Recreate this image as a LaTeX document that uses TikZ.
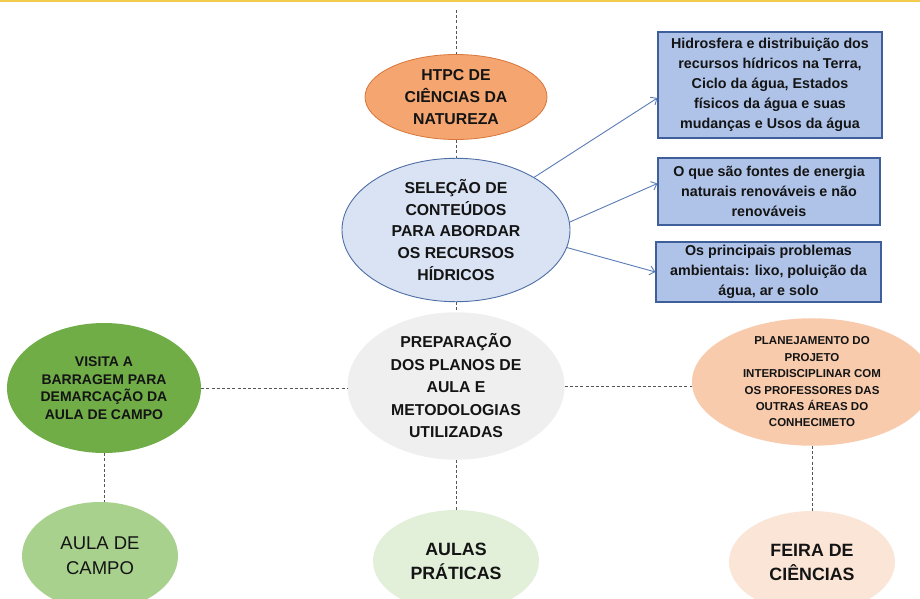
\documentclass[tikz,border=0pt]{standalone}
\usepackage{fontspec}
\setmainfont{Liberation Sans}
\usetikzlibrary{shapes.geometric,arrows.meta}
\definecolor{gold}{HTML}{F2CB4C}
\definecolor{htpcfill}{HTML}{F4A570}
\definecolor{htpcline}{HTML}{D9773A}
\definecolor{selfill}{HTML}{DAE3F3}
\definecolor{selline}{HTML}{4E6EA6}
\definecolor{boxfill}{HTML}{AFC3E8}
\definecolor{boxline}{HTML}{3F5F9A}
\definecolor{arrowc}{HTML}{5A7CB6}
\definecolor{prepfill}{HTML}{EFEFEF}
\definecolor{visfill}{HTML}{70AD47}
\definecolor{campofill}{HTML}{A9D18E}
\definecolor{pratfill}{HTML}{E2F0D9}
\definecolor{planfill}{HTML}{F8CBAD}
\definecolor{feirafill}{HTML}{FBE5D6}
\definecolor{dashc}{HTML}{555555}
\definecolor{txt}{HTML}{141414}
\tikzset{
  oval/.style={ellipse, inner sep=0pt, align=center, text=txt},
  infobox/.style={rectangle, draw=boxline, line width=1.2pt, fill=boxfill, inner sep=0pt, align=center, text=txt,
     font=\bfseries\fontsize{14.3}{20}\selectfont},
  dashlink/.style={draw=dashc, line width=0.8pt, dash pattern=on 3pt off 2.2pt},
  pointer/.style={draw=arrowc, line width=0.9pt, -{Straight Barb[length=5pt,width=9pt]}}
}
\begin{document}
\begin{tikzpicture}[x=1pt,y=-1pt]
\useasboundingbox (0,0) rectangle (920,599);
\clip (0,0) rectangle (920,599);
\fill[white] (0,0) rectangle (920,599);
\fill[gold] (0,0) rectangle (920,2.5);

% ellipses
\node[oval, fill=htpcfill, draw=htpcline, line width=0.8pt, minimum width=182pt, minimum height=85pt,
  font=\bfseries\fontsize{15.8}{22}\selectfont] (htpc) at (456,97) {HTPC DE\\CIÊNCIAS DA\\NATUREZA};
\node[oval, fill=selfill, draw=selline, line width=0.9pt, minimum width=228pt, minimum height=126pt,
  font=\bfseries\fontsize{15.8}{21.8}\selectfont] (sel) at (456,230) {SELEÇÃO DE\\CONTEÚDOS\\PARA ABORDAR\\OS RECURSOS\\HÍDRICOS};
\node[oval, fill=prepfill, minimum width=217pt, minimum height=132pt,
  font=\bfseries\fontsize{15.8}{22.5}\selectfont] (prep) at (456,386) {PREPARAÇÃO\\DOS PLANOS DE\\AULA E\\METODOLOGIAS\\UTILIZADAS};
\node[oval, fill=visfill, minimum width=194pt, minimum height=130pt,
  font=\bfseries\fontsize{14}{17.6}\selectfont] (vis) at (104,388) {VISITA A\\BARRAGEM PARA\\DEMARCAÇÃO DA\\AULA DE CAMPO};
\node[oval, fill=planfill, minimum width=240pt, minimum height=127pt,
  font=\bfseries\fontsize{11.5}{16.4}\selectfont] (plan) at (812,382) {PLANEJAMENTO DO\\PROJETO\\INTERDISCIPLINAR COM\\OS PROFESSORES DAS\\OUTRAS ÁREAS DO\\CONHECIMETO};
\node[oval, fill=campofill, minimum width=156pt, minimum height=108pt,
  font=\fontsize{18.5}{25}\selectfont] (campo) at (100,556) {AULA DE\\CAMPO};
\node[oval, fill=pratfill, minimum width=166pt, minimum height=102pt,
  font=\bfseries\fontsize{17.8}{24}\selectfont] (prat) at (456,561) {AULAS\\PRÁTICAS};
\node[oval, fill=feirafill, minimum width=166pt, minimum height=102pt,
  font=\bfseries\fontsize{17.8}{24}\selectfont] (feira) at (812,562) {FEIRA DE\\CIÊNCIAS};

% boxes
\node[infobox, minimum width=224pt, minimum height=106pt] (b1) at (770,85)
  {Hidrosfera e distribuição dos\\recursos hídricos na Terra,\\Ciclo da água, Estados\\físicos da água e suas\\mudanças e Usos da água};
\node[infobox, minimum width=222pt, minimum height=67pt] (b2) at (769,191.5)
  {O que são fontes de energia\\naturais renováveis e não\\renováveis};
\node[infobox, minimum width=225pt, minimum height=60pt] (b3) at (768.5,272)
  {Os principais problemas\\ambientais: lixo, poluição da\\água, ar e solo};

% dashed connectors
\coordinate (top) at (456,10);
\draw[dashlink] (top) -- (htpc.north);
\draw[dashlink] (htpc.south) -- (sel.north);
\draw[dashlink] (sel.south) -- (prep.north);
\draw[dashlink] (vis.east) -- (vis.east -| prep.west);
\draw[dashlink] (prep.east) -- (prep.east -| plan.west);
\draw[dashlink] (vis.south) -- (vis.south |- campo.north);
\draw[dashlink] (prep.south) -- (prat.north);
\draw[dashlink] (plan.south) -- (plan.south |- feira.north);

% arrows
\draw[pointer] (sel.34) -- ([yshift=-13pt]b1.west);
\draw[pointer] (sel.4) -- ([yshift=8pt]b2.west);
\draw[pointer] (sel.-9) -- (b3.west);
\end{tikzpicture}
\end{document}
